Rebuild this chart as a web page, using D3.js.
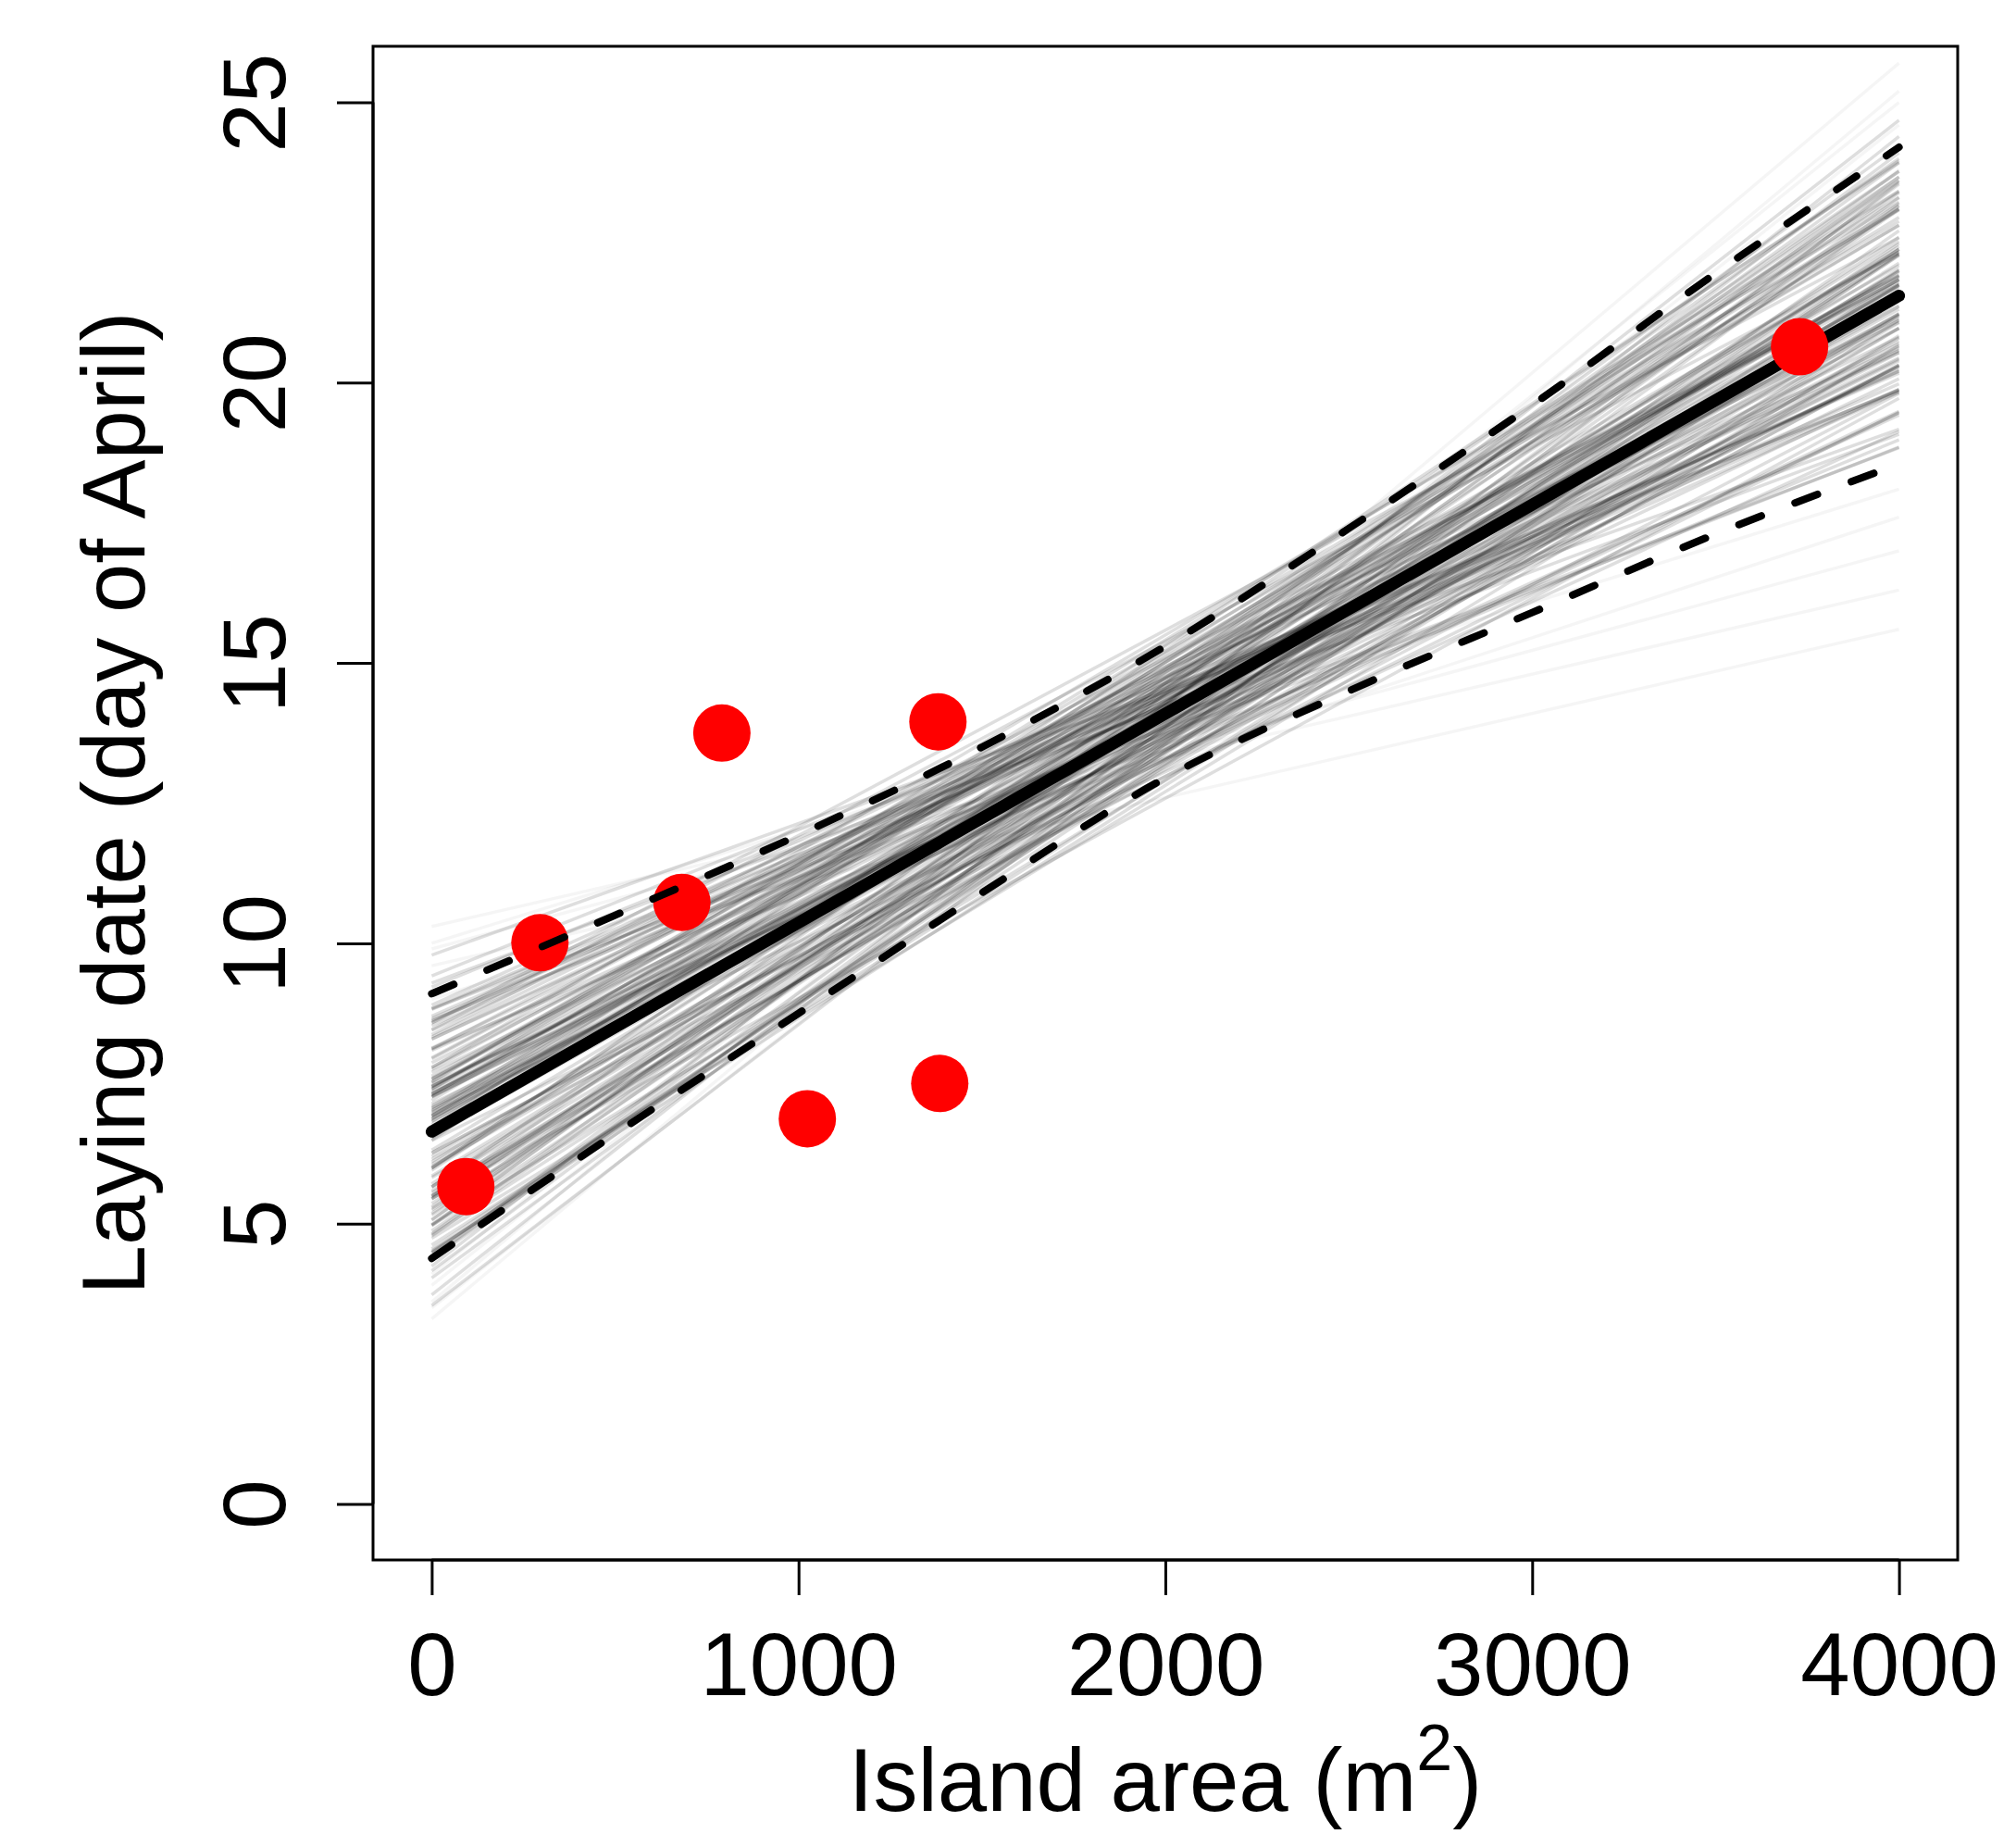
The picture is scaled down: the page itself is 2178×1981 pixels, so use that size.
<!DOCTYPE html>
<html>
<head>
<meta charset="utf-8">
<script src="https://cdn.jsdelivr.net/npm/d3@7"></script>
<style>
  html, body { margin: 0; padding: 0; background: #fff; }
  svg { display: block; }
</style>
</head>
<body>
<div id="chart"></div>
<script>
// Laying date vs island area: posterior regression draws (grey fan),
// fitted line, 95% credible band (dashed) and observed islands (red).

const areaTicks = [0, 1000, 2000, 3000, 4000];
const dateTicks = [0, 5, 10, 15, 20, 25];

// observed islands
const islandArea = [93, 295, 682, 791, 1024, 1380, 1385, 3729];
const layingDate = [5.66, 10.01, 10.73, 13.75, 6.87, 13.95, 7.50, 20.64];

// fitted line, value at area 0 and area 4000
const lineArea = [0, 4000];
const fitDate  = [6.64, 21.55];

// credible band (dashed)
const bandArea  = [0, 500, 1000, 1500, 2000, 2500, 3000, 3500, 4000];
const bandUpper = [9.10, 10.50, 11.93, 13.50, 15.30, 17.40, 19.60, 21.95, 24.20];
const bandLower = [4.38, 6.60, 8.75, 10.90, 12.95, 14.50, 15.90, 17.30, 18.55];

// posterior draws: laying date at area 0 and at area 4000
const drawStart = [
  6.82, 7.32, 5.65, 7.06, 5.24, 8.53, 6.20, 5.65, 7.94, 4.39,
  8.13, 5.44, 6.94, 5.99, 9.42, 4.98, 7.58, 7.52, 7.46, 6.53,
  4.37, 6.92, 8.45, 4.62, 7.27, 6.88, 4.40, 7.59, 5.44, 7.07,
  7.20, 6.86, 4.87, 7.41, 7.40, 8.09, 5.82, 5.95, 7.57, 7.26,
  5.49, 4.98, 7.96, 5.55, 8.82, 6.31, 6.55, 4.48, 7.79, 7.39,
  7.27, 6.10, 7.75, 4.03, 6.92, 4.74, 8.29, 5.71, 7.30, 7.44,
  4.55, 8.84, 6.06, 6.97, 7.32, 5.07, 7.44, 6.02, 8.29, 5.36,
  8.58, 5.58, 5.30, 6.83, 7.36, 6.87, 7.26, 5.50, 4.24, 7.63,
  5.50, 9.29, 5.66, 7.30, 6.72, 7.45, 6.56, 6.15, 5.99, 7.10,
  5.27, 8.61, 6.54, 6.63, 7.03, 5.18, 6.26, 6.77, 7.70, 5.85,
  5.47, 8.12, 4.80, 8.58, 4.16, 8.37, 4.48, 8.70, 7.53, 8.83,
  4.96, 6.99, 6.92, 6.26, 3.54, 9.22, 6.49, 6.48, 4.78, 8.90,
  4.51, 8.66, 5.06, 8.46, 5.15, 8.63, 4.97, 8.33, 4.82, 7.50,
  7.78, 5.45, 5.99, 7.87, 3.73, 7.14, 7.01, 9.79, 4.49, 8.11,
  10.30, 9.60, 9.90, 3.30, 3.60, 4.10, 10.00, 3.90, 9.00, 3.50
];
const drawEnd = [
  21.98, 20.42, 23.61, 21.31, 21.58, 19.98, 21.19, 22.59, 21.83, 23.30,
  20.81, 20.97, 21.55, 22.13, 19.86, 22.27, 21.08, 22.88, 20.39, 22.38,
  22.71, 21.36, 20.57, 21.21, 22.33, 20.58, 24.10, 21.69, 22.29, 19.46,
  22.81, 21.73, 22.48, 20.74, 23.42, 19.83, 21.07, 23.10, 21.91, 20.29,
  21.74, 23.60, 21.91, 20.65, 19.88, 22.00, 21.23, 22.28, 21.37, 22.81,
  20.07, 22.52, 21.92, 23.16, 21.47, 20.67, 20.54, 22.43, 22.09, 21.22,
  22.00, 20.17, 21.54, 23.15, 20.53, 23.20, 21.84, 20.97, 20.24, 22.38,
  22.59, 21.23, 23.77, 21.55, 19.88, 22.95, 20.70, 20.80, 24.68, 21.84,
  22.03, 19.08, 21.45, 21.89, 23.93, 20.29, 21.74, 19.81, 23.67, 21.58,
  21.65, 20.20, 21.56, 23.41, 20.32, 23.39, 20.31, 22.34, 20.44, 21.76,
  24.00, 18.98, 21.63, 21.15, 23.54, 21.79, 22.38, 20.21, 23.08, 18.84,
  23.92, 19.13, 23.10, 20.31, 23.57, 19.87, 23.96, 19.47, 23.09, 20.62,
  21.12, 19.84, 24.23, 22.31, 22.30, 18.85, 20.84, 21.11, 23.67, 19.42,
  23.22, 19.72, 23.77, 20.97, 24.39, 19.49, 23.31, 19.17, 21.85, 21.75,
  16.30, 15.60, 17.00, 25.20, 25.70, 25.00, 18.10, 24.60, 17.60, 23.80
];
const faintFrom = 140; // last draws are the faint outliers

const W = 2178, H = 1981;
const m = { top: 50, right: 63, bottom: 296, left: 403 };
const FONT = "'Liberation Sans', Arial, Helvetica, sans-serif";

const svg = d3.select("#chart").append("svg")
  .attr("width", W)
  .attr("height", H)
  .attr("viewBox", `0 0 ${W} ${H}`);

svg.append("rect").attr("width", W).attr("height", H).attr("fill", "#fff");

// R-style 4% padding around xlim 0..4000 and ylim 0..25
const x = d3.scaleLinear().domain([-160, 4160]).range([m.left, W - m.right]);
const y = d3.scaleLinear().domain([-1, 26]).range([H - m.bottom, m.top]);

// Posterior draws
const draws = svg.append("g");
drawStart.forEach((s, i) => {
  draws.append("line")
    .attr("x1", x(lineArea[0])).attr("y1", y(s))
    .attr("x2", x(lineArea[1])).attr("y2", y(drawEnd[i]))
    .attr("stroke", "#000")
    .attr("stroke-width", 3.5)
    .attr("stroke-opacity", i < faintFrom ? 0.13 : 0.04);
});

// Fitted line
svg.append("line")
  .attr("x1", x(lineArea[0])).attr("y1", y(fitDate[0]))
  .attr("x2", x(lineArea[1])).attr("y2", y(fitDate[1]))
  .attr("stroke", "#000")
  .attr("stroke-width", 13)
  .attr("stroke-linecap", "round");

// Observed islands
svg.append("g").selectAll("circle")
  .data(islandArea)
  .join("circle")
    .attr("cx", d => x(d))
    .attr("cy", (d, i) => y(layingDate[i]))
    .attr("r", 31)
    .attr("fill", "#ff0000");

// Credible band
const bandLine = d3.line()
  .x((d, i) => x(bandArea[i]))
  .y(d => y(d))
  .curve(d3.curveMonotoneX);

[bandUpper, bandLower].forEach(band => {
  svg.append("path")
    .attr("d", bandLine(band))
    .attr("fill", "none")
    .attr("stroke", "#000")
    .attr("stroke-width", 8)
    .attr("stroke-linecap", "round")
    .attr("stroke-dasharray", "26,39");
});

// Frame
svg.append("rect")
  .attr("x", m.left).attr("y", m.top)
  .attr("width", W - m.left - m.right)
  .attr("height", H - m.top - m.bottom)
  .attr("fill", "none")
  .attr("stroke", "#000")
  .attr("stroke-width", 3);

// X axis
const xAxisG = svg.append("g")
  .attr("transform", `translate(0,${H - m.bottom})`)
  .call(d3.axisBottom(x).tickValues(areaTicks).tickFormat(d3.format("d")).tickSize(38).tickPadding(38));
xAxisG.select(".domain")
  .attr("d", `M${x(areaTicks[0])},0H${x(areaTicks[areaTicks.length - 1])}`)
  .attr("stroke-width", 3);
xAxisG.selectAll(".tick line").attr("stroke-width", 3);
xAxisG.selectAll("text")
  .attr("font-family", FONT)
  .attr("font-size", 96)
  .attr("fill", "#000")
  .attr("dy", null)
  .attr("y", 146);

// Y axis, labels parallel to the axis
const yAxisG = svg.append("g")
  .attr("transform", `translate(${m.left},0)`)
  .call(d3.axisLeft(y).tickValues(dateTicks).tickSize(39));
yAxisG.select(".domain")
  .attr("d", `M0,${y(dateTicks[0])}V${y(dateTicks[dateTicks.length - 1])}`)
  .attr("stroke-width", 3);
yAxisG.selectAll(".tick line").attr("stroke-width", 3);
yAxisG.selectAll("text")
  .attr("font-family", FONT)
  .attr("font-size", 96)
  .attr("fill", "#000")
  .attr("x", null)
  .attr("dy", null)
  .attr("text-anchor", "middle")
  .attr("transform", "translate(-95,0) rotate(-90)");

// Axis titles
const xTitle = svg.append("text")
  .attr("x", (m.left + W - m.right) / 2)
  .attr("y", 1956)
  .attr("text-anchor", "middle")
  .attr("font-family", FONT)
  .attr("font-size", 96)
  .attr("fill", "#000");
xTitle.append("tspan").text("Island area (m");
xTitle.append("tspan").attr("font-size", 70).attr("dy", -44).text("2");
xTitle.append("tspan").attr("dy", 44).text(")");

svg.append("text")
  .attr("transform", `translate(156,${(m.top + H - m.bottom) / 2}) rotate(-90)`)
  .attr("text-anchor", "middle")
  .attr("font-family", FONT)
  .attr("font-size", 96)
  .attr("fill", "#000")
  .text("Laying date (day of April)");
</script>
</body>
</html>
